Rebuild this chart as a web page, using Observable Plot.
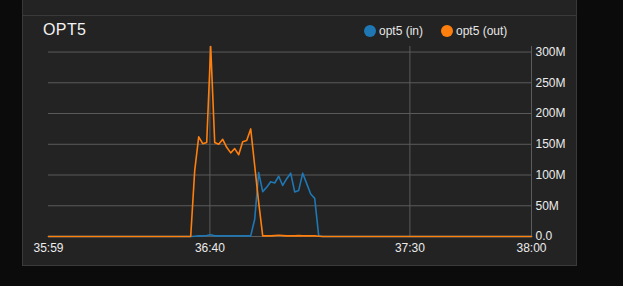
<!DOCTYPE html>
<html>
<head>
<meta charset="utf-8">
<script src="https://cdn.jsdelivr.net/npm/d3@7"></script>
<script src="https://cdn.jsdelivr.net/npm/@observablehq/plot@0.6"></script>
<style>
  html, body { margin: 0; padding: 0; }
  body { background: #0b0b0b; width: 623px; height: 286px; overflow: hidden; position: relative;
         font-family: "Liberation Sans", Arial, sans-serif; }
  .panel-top { position: absolute; left: 22px; top: -2px; width: 553px; height: 16px; background: #232323; border: 1px solid #383838; }
  .panel { position: absolute; left: 22px; top: 15px; width: 553px; height: 249px; background: #232323; border: 1px solid #3a3a3a; }
  #title { position: absolute; left: 43px; top: 22px; font-size: 16px; line-height: 16px; color: #f2f2f2; letter-spacing: 0.4px; }
  .dot { position: absolute; width: 12px; height: 12px; border-radius: 50%; top: 25px; }
  .lab { position: absolute; top: 25px; font-size: 12px; line-height: 12px; color: #e6e6e6; white-space: nowrap; }
  #chart { position: absolute; left: 0; top: 0; }
</style>
</head>
<body>
<div class="panel-top"></div>
<div class="panel"></div>
<div id="title">OPT5</div>
<div id="legend"></div>
<div id="chart"></div>
<script>
// ---- data (values in M) ----
const domainTimes = ["35:59.65", "38:00.4"];
const sampleTimes = [
  "35:59.65",
  "36:35.2","36:36.2","36:37.2","36:38.2","36:39.2","36:40.2","36:41.2","36:42.2","36:43.2","36:44.2",
  "36:45.2","36:46.2","36:47.2","36:48.2","36:49.2","36:50.2","36:51.2","36:52.2","36:53.2","36:54.2",
  "36:55.2","36:56.2","36:57.2","36:58.2","36:59.2","37:00.2","37:01.2","37:02.2","37:03.2","37:04.2",
  "37:05.2","37:06.2","37:07.2","37:08.2",
  "38:00.4"
];
const inValues = [
  0,
  0, 0.5, 1, 1, 1.5, 3, 1, 1, 1, 1,
  1, 1, 1, 1, 1, 1, 28, 104, 73, 80,
  89, 87, 98, 83, 94, 103, 72.5, 75, 103, 86,
  69, 62, 1, 0,
  0
];
const outValues = [
  0,
  0, 107, 162, 151, 153, 309, 153, 150, 158, 145,
  136, 143, 133, 154, 156, 175, 115, 55, 1, 1,
  1, 1.5, 2, 1.5, 1, 1, 1, 1.5, 1, 1,
  1, 1, 0.5, 0,
  0
];
const seriesNames = ["opt5 (in)", "opt5 (out)"];
const seriesColors = ["#1f77b4", "#ff7f0e"];
const yTickValues = [0, 50, 100, 150, 200, 250, 300];
const vGridTimes = ["36:40", "37:30"];

// ---- build ----
const parseT = s => { const [m, sec] = s.split(":"); return new Date(Date.UTC(2024, 0, 1, 0, +m, 0) + (+sec) * 1000); };
const tStart = parseT(domainTimes[0]), tEnd = parseT(domainTimes[1]);
const rows = [];
sampleTimes.forEach((t, i) => {
  rows.push({t: parseT(t), v: inValues[i] * 1e6, s: seriesNames[0]});
});
sampleTimes.forEach((t, i) => {
  rows.push({t: parseT(t), v: outValues[i] * 1e6, s: seriesNames[1]});
});
const fmtT = d3.utcFormat("%M:%S");
const gridColor = "#5b5b5b";

const chart = Plot.plot({
  width: 623,
  height: 260,
  marginLeft: 48,
  marginRight: 92,
  marginTop: 46,
  marginBottom: 24,
  style: {background: "transparent", color: "#ececec", fontFamily: "'Liberation Sans', Arial, sans-serif", fontSize: "12px"},
  x: {type: "utc", domain: [tStart, tEnd], label: null},
  y: {domain: [0, 309e6], label: null},
  color: {domain: seriesNames, range: seriesColors},
  marks: [
    Plot.gridY(yTickValues.map(v => v * 1e6), {stroke: gridColor, strokeOpacity: 1}),
    Plot.ruleX(vGridTimes.map(parseT), {stroke: gridColor, strokeOpacity: 1}),
    Plot.ruleX([tEnd], {stroke: gridColor, strokeOpacity: 1}),
    Plot.line(rows, {x: "t", y: "v", z: "s", stroke: "s", strokeWidth: 1.6, curve: "linear"}),
    Plot.axisY(yTickValues.map(v => v * 1e6), {anchor: "right", tickSize: 0, tickPadding: 4, label: null,
      tickFormat: v => v === 0 ? "0.0" : (v / 1e6) + "M", fill: "#ececec"}),
    Plot.axisX([tStart, ...vGridTimes.map(parseT), tEnd], {anchor: "bottom", tickSize: 0, tickPadding: 7, label: null,
      tickFormat: fmtT, fill: "#ececec"})
  ]
});
document.getElementById("chart").appendChild(chart);

// legend
const legend = document.getElementById("legend");
const legendX = [[364, 379], [441, 456]];
seriesNames.forEach((name, i) => {
  const dot = document.createElement("div");
  dot.className = "dot";
  dot.style.left = legendX[i][0] + "px";
  dot.style.background = seriesColors[i];
  legend.appendChild(dot);
  const lab = document.createElement("div");
  lab.className = "lab";
  lab.style.left = legendX[i][1] + "px";
  lab.textContent = name;
  legend.appendChild(lab);
});
</script>
</body>
</html>
